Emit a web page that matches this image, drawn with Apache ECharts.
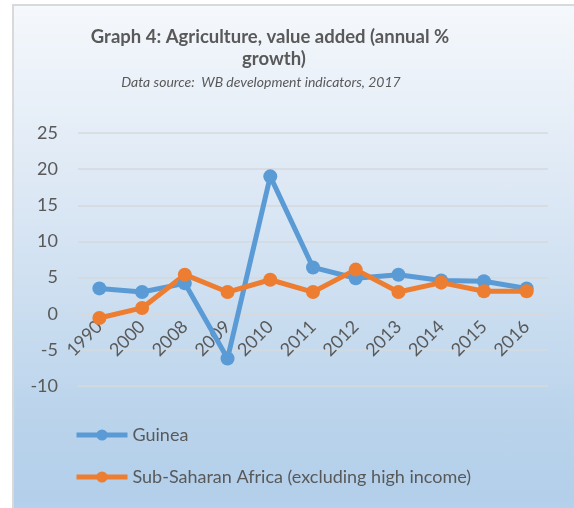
<!DOCTYPE html>
<html lang="en">
<head>
    <meta charset="UTF-8">
    <title>Graph 4</title>
    <style>
        html,body{margin:0;padding:0;width:574px;height:508px;background:#fff;overflow:hidden;}
        .chart_box{position:absolute;left:12px;top:4px;width:600px;height:560px;
            border-left:2px solid #d9d9d9;border-top:2px solid #d9d9d9;
            background:linear-gradient(to bottom,#f5f8fc 0%,#dbe7f4 35%,#b9d3eb 75%,#b3cfea 88%,#c6dbef 100%);}
        #lineChart{position:absolute;left:0;top:0;width:574px;height:508px;}
    </style>
</head>
<body>
<div class="chart_box"></div>
<div id="lineChart"></div>
<script src="https://cdn.jsdelivr.net/npm/echarts@6/dist/echarts.min.js"></script>
<script>
    // data
    let years = ['1990','2000','2008','2009','2010','2011','2012','2013','2014','2015','2016'];
    let guinea = [3.5, 3.0, 4.2, -6.2, 19.0, 6.4, 4.9, 5.4, 4.6, 4.5, 3.5];
    let ssa = [-0.6, 0.8, 5.4, 3.0, 4.7, 3.0, 6.1, 3.0, 4.3, 3.1, 3.1];
    let yTicks = {min: -10, max: 25, interval: 5};

    let textColor = '#595959';
    let gridColor = '#d6d9dc';
    let font = 'Lato, "Liberation Sans", sans-serif';

    // grid box
    let gridTop = 133, gridBottom = 122, chartH = 508;
    let gridH = chartH - gridTop - gridBottom;
    // category axis sits on the zero line
    let zeroOffset = -gridH * (0 - yTicks.min) / (yTicks.max - yTicks.min);

    lineChart();

    function lineChart(){
        let myChart = echarts.init(document.getElementById('lineChart'));
        let option = {
            animation:false,
            textStyle:{fontFamily:font},
            graphic:[
                {type:'text', x:270, y:37, style:{text:'Graph 4: Agriculture, value added (annual %',
                        textAlign:'center', textVerticalAlign:'middle', fill:textColor,
                        font:'bold 18.5px ' + font}},
                {type:'text', x:274, y:59, style:{text:'growth)',
                        textAlign:'center', textVerticalAlign:'middle', fill:textColor,
                        font:'bold 18.5px ' + font}},
                {type:'text', x:261, y:82, style:{text:'Data source:  WB development indicators, 2017',
                        textAlign:'center', textVerticalAlign:'middle', fill:textColor,
                        font:'italic 14px ' + font}}
            ],
            legend:{
                orient:'vertical',
                left:74,
                top:426,
                padding:0,
                itemWidth:51,
                itemHeight:14,
                itemGap:24,
                lineStyle:{width:5},
                textStyle:{color:textColor, fontSize:18, fontFamily:font}
            },
            grid:{
                left:78,
                right:26,
                top:gridTop,
                bottom:gridBottom,
                outerBoundsMode:'none'
            },
            xAxis:{
                type:'category',
                data:years,
                offset:zeroOffset,
                axisTick:{show:false},
                axisLine:{show:true, onZero:false, lineStyle:{color:gridColor, width:1.5}},
                axisLabel:{
                    interval:0,
                    rotate:45,
                    margin:10,
                    color:textColor,
                    fontSize:18,
                    fontFamily:font
                }
            },
            yAxis:{
                type:'value',
                min:yTicks.min,
                max:yTicks.max,
                interval:yTicks.interval,
                axisTick:{show:false},
                axisLine:{show:false},
                axisLabel:{color:textColor, fontSize:18, margin:20, fontFamily:font},
                splitLine:{show:true, lineStyle:{color:gridColor, width:1.5}}
            },
            series:[
                {
                    name:'Guinea',
                    type:'line',
                    data:guinea,
                    symbol:'circle',
                    symbolSize:14,
                    color:'#5b9bd5',
                    lineStyle:{width:5, color:'#5b9bd5'},
                    itemStyle:{color:'#5b9bd5'}
                },
                {
                    name:'Sub-Saharan Africa (excluding high income)',
                    type:'line',
                    data:ssa,
                    symbol:'circle',
                    symbolSize:14,
                    color:'#ed7d31',
                    lineStyle:{width:5, color:'#ed7d31'},
                    itemStyle:{color:'#ed7d31'}
                }
            ]
        };
        myChart.setOption(option);
    }
</script>
</body>
</html>
